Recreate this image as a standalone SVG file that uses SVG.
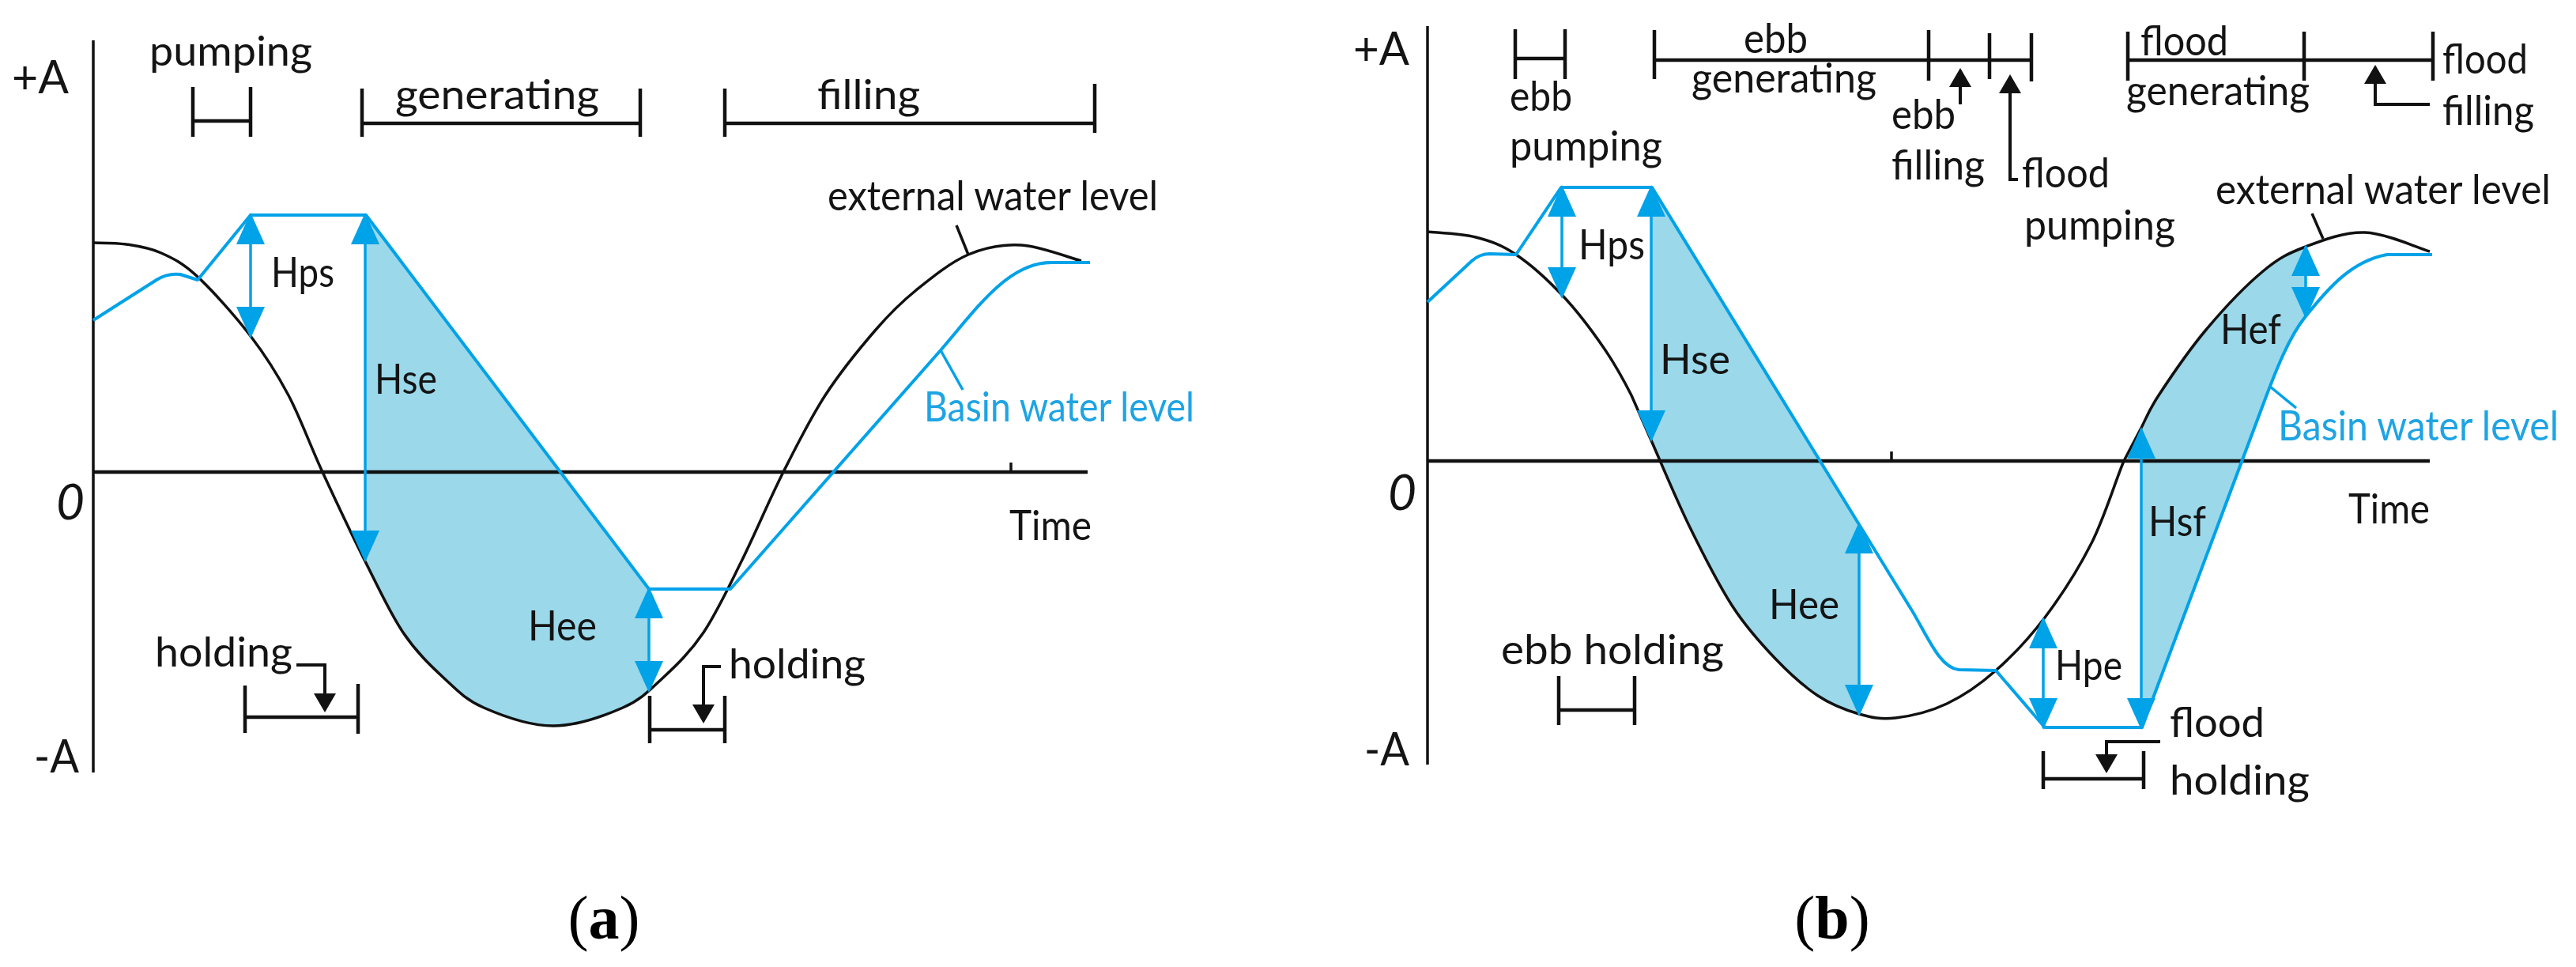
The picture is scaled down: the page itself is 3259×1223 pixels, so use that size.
<svg xmlns="http://www.w3.org/2000/svg" width="3259" height="1223" viewBox="0 0 3259 1223">
<style>
.t{font-family:Lato,"Open Sans","Liberation Sans",sans-serif;font-size:52px;fill:#141414}
.big{font-size:58px}
.zero{font-size:62px;font-style:italic}
.bt{fill:#1ea4e3}
.cap{font-family:"Liberation Serif","Times New Roman",serif;font-size:78px;fill:#000}
.ax{stroke:#111;stroke-width:3.5;fill:none}
.br{stroke:#111;stroke-width:4.5;fill:none}
.ext{stroke:#111;stroke-width:3.5;fill:none}
.bas{stroke:#00a2e8;stroke-width:4;fill:none;stroke-linejoin:round}
.dim{stroke:#00a2e8;stroke-width:3.5;fill:none}
.ptr{stroke:#111;stroke-width:4;fill:none}
.shade{fill:#9ad8ea;stroke:none}
</style>
<defs>
<marker id="ab" markerUnits="userSpaceOnUse" viewBox="0 0 40 36" markerWidth="40" markerHeight="36" refX="37" refY="18" orient="auto-start-reverse"><path d="M0,0 L40,18 L0,36 Z" fill="#00a2e8"/></marker>
<marker id="ak" markerUnits="userSpaceOnUse" viewBox="0 0 24 28" markerWidth="24" markerHeight="28" refX="21" refY="14" orient="auto"><path d="M0,0 L24,14 L0,28 Z" fill="#111"/></marker>
<clipPath id="clipA"><rect x="400" y="200" width="421" height="800"/></clipPath>
</defs>

<g id="panel-a">
  <g id="a-shade"><path class="shade" clip-path="url(#clipA)" d="M463,272 L462,710 C479,743.8 493.5,775.5 510,800 C526.5,824.5 544,841.2 561,857 C578,872.8 588.8,884.8 612,895 C635.2,905.2 670.7,918 700,918 C729.3,918 764.8,905.2 788,895 C811.2,884.8 822,872.8 839,857 L839,745 L821,745 Z"/></g>
  <g id="a-axes">
    <path class="ax" d="M118,51 V977"/>
    <path class="ax" d="M118,597 H1376" style="stroke-width:4.5"/>
    <path class="ax" d="M1279,585 V597"/>
  </g>
  <g id="a-external"><path class="ext" d="M118,307 C125,307.3 145.7,306.8 160,309 C174.3,311.2 189,313.2 204,320 C219,326.8 231.2,332.5 250,350 C268.8,367.5 297.8,400 317,425 C336.2,450 349.8,471.3 365,500 C380.2,528.7 391.8,562 408,597 C424.2,632 445,676.2 462,710 C479,743.8 493.5,775.5 510,800 C526.5,824.5 544,841.2 561,857 C578,872.8 588.8,884.8 612,895 C635.2,905.2 670.7,918 700,918 C729.3,918 764.8,905.2 788,895 C811.2,884.8 822,872.8 839,857 C856,841.2 873.5,824.5 890,800 C906.5,775.5 921.2,743.8 938,710 C954.8,676.2 973.3,632 991,597 C1008.7,562 1024.5,530 1044,500 C1063.5,470 1088.8,439.2 1108,417 C1127.2,394.8 1139.5,382.8 1159,367 C1178.5,351.2 1202.8,331.5 1225,322 C1247.2,312.5 1268.2,308.7 1292,310 C1315.8,311.3 1355.3,326.7 1368,330"/></g>
  <g id="a-basin"><path class="bas" d="M118,405 L198,354 Q212,345 228,347 L250,354 L317,272 L463,272 L821,745 L924,745 L1190,443 C1235,391 1275,332 1330,332 L1379,332"/></g>
  <g id="a-connectors">
    <line class="ext" x1="1210" y1="285" x2="1225" y2="322"/>
    <line class="dim" x1="1190" y1="443" x2="1218" y2="493"/>
    <line class="dim" x1="317" y1="272" x2="317" y2="425" marker-start="url(#ab)" marker-end="url(#ab)"/>
    <line class="dim" x1="462" y1="272" x2="462" y2="708" marker-start="url(#ab)" marker-end="url(#ab)"/>
    <line class="dim" x1="821" y1="745" x2="821" y2="873" marker-start="url(#ab)" marker-end="url(#ab)"/>
    <polyline class="ptr" points="375,841 411,841 411,898" marker-end="url(#ak)"/>
    <polyline class="ptr" points="912,843 890,843 890,912" marker-end="url(#ak)"/>
  </g>
  <g id="a-brackets">
    <path class="br" d="M244,110 V173 M317,110 V173 M244,153 H317"/>
    <path class="br" d="M458,112 V173 M810,112 V173 M458,156 H810"/>
    <path class="br" d="M917,112 V173 M1385,106 V168 M917,156 H1385"/>
    <path class="br" d="M310,867 V927 M453,865 V928 M310,907 H453"/>
    <path class="br" d="M822,880 V940 M917,880 V940 M822,923 H917"/>
  </g>
  <g id="a-labels">
    <text class="t big" x="15" y="118" textLength="72" lengthAdjust="spacingAndGlyphs">+A</text>
    <text class="t big" x="43" y="977" textLength="57" lengthAdjust="spacingAndGlyphs">-A</text>
    <text class="t zero" x="71" y="657">0</text>
    <text class="t" x="189" y="83" textLength="206" lengthAdjust="spacingAndGlyphs">pumping</text>
    <text class="t" x="500" y="138" textLength="258" lengthAdjust="spacingAndGlyphs">generating</text>
    <text class="t" x="1034" y="138" textLength="130" lengthAdjust="spacingAndGlyphs">filling</text>
    <text class="t" x="1047" y="266" textLength="418" lengthAdjust="spacingAndGlyphs">external water level</text>
    <text class="t" x="343" y="363" textLength="80" lengthAdjust="spacingAndGlyphs">Hps</text>
    <text class="t" x="474" y="498" textLength="79" lengthAdjust="spacingAndGlyphs">Hse</text>
    <text class="t bt" x="1169" y="533" textLength="342" lengthAdjust="spacingAndGlyphs">Basin water level</text>
    <text class="t" x="1277" y="683" textLength="104" lengthAdjust="spacingAndGlyphs">Time</text>
    <text class="t" x="668" y="810" textLength="87" lengthAdjust="spacingAndGlyphs">Hee</text>
    <text class="t" x="196" y="843" textLength="174" lengthAdjust="spacingAndGlyphs">holding</text>
    <text class="t" x="922" y="858" textLength="173" lengthAdjust="spacingAndGlyphs">holding</text>
    <text class="cap" x="764" y="1187" text-anchor="middle">(<tspan font-weight="bold">a</tspan>)</text>
  </g>
</g>

<g id="panel-b">
  <g id="b-shade">
    <path class="shade" d="M2090,237 L2089,557 C2101.3,584.8 2120.8,632 2138,667 C2155.2,702 2174,739.3 2192,767 C2210,794.7 2228,814.2 2246,833 C2264,851.8 2282.3,868.3 2300,880 C2317.7,891.7 2335.7,898.3 2352,903 L2352,663 Z"/>
    <path class="shade" d="M2708,543 C2715.3,529.2 2717.2,521 2731,500 C2744.8,479 2769,443.2 2791,417 C2813,390.8 2842,360.5 2863,343 C2884,325.5 2895.5,320.2 2917,312 L2917,400 C2896,426 2880,466 2860,520 L2710,920 L2708,920 Z"/>
  </g>
  <g id="b-axes">
    <path class="ax" d="M1806,33 V967"/>
    <path class="ax" d="M1806,583 H3074" style="stroke-width:4.5"/>
    <path class="ax" d="M2393,571 V583"/>
  </g>
  <g id="b-external"><path class="ext" d="M1806,293 C1816.2,294.2 1848.3,295.2 1867,300 C1885.7,304.8 1899.5,309.5 1918,322 C1936.5,334.5 1959.5,355.3 1978,375 C1996.5,394.7 2014.7,419.2 2029,440 C2043.3,460.8 2054,480.5 2064,500 L2089,557 C2101.3,584.8 2120.8,632 2138,667 C2155.2,702 2174,739.3 2192,767 C2210,794.7 2228,814.2 2246,833 C2264,851.8 2282.3,868.3 2300,880 C2317.7,891.7 2335.7,898.3 2352,903 C2368.3,907.7 2379.5,910.2 2398,908 C2416.5,905.8 2441.8,900 2463,890 C2484.2,880 2504.3,866.2 2525,848 C2545.7,829.8 2566.8,807.8 2587,781 C2607.2,754.2 2629.3,720 2646,687 C2662.7,654 2676.7,607 2687,583 L2708,543 C2715.3,529.2 2717.2,521 2731,500 C2744.8,479 2769,443.2 2791,417 C2813,390.8 2842,360.5 2863,343 C2884,325.5 2895.5,320.2 2917,312 C2938.5,303.8 2965.8,293 2992,294 C3018.2,295 3060.3,314 3074,318"/></g>
  <g id="b-basin"><path class="bas" d="M1806,382 L1862,330 Q1872,321 1885,321 L1918,322 L1975,237 L2090,237 L2420,774 C2440,808 2455,845 2478,847 L2525,848 L2587,920 L2710,920 L2860,520 C2880,466 2896,426 2917,400 C2945,365 2975,330 3020,322 L3077,322"/></g>
  <g id="b-connectors">
    <line class="ext" x1="2925" y1="270" x2="2939" y2="302"/>
    <line class="dim" x1="2872" y1="489" x2="2905" y2="516"/>
    <line class="dim" x1="1976" y1="237" x2="1976" y2="375" marker-start="url(#ab)" marker-end="url(#ab)"/>
    <line class="dim" x1="2089" y1="237" x2="2089" y2="556" marker-start="url(#ab)" marker-end="url(#ab)"/>
    <line class="dim" x1="2352" y1="663" x2="2352" y2="903" marker-start="url(#ab)" marker-end="url(#ab)"/>
    <line class="dim" x1="2585" y1="783" x2="2585" y2="920" marker-start="url(#ab)" marker-end="url(#ab)"/>
    <line class="dim" x1="2709" y1="543" x2="2709" y2="920" marker-start="url(#ab)" marker-end="url(#ab)"/>
    <line class="dim" x1="2917" y1="312" x2="2917" y2="400" marker-start="url(#ab)" marker-end="url(#ab)"/>
    <polyline class="ptr" points="2480,132 2480,89" marker-end="url(#ak)"/>
    <polyline class="ptr" points="2553,227 2543,227 2543,97" marker-end="url(#ak)"/>
    <polyline class="ptr" points="3074,132 3005,132 3005,85" marker-end="url(#ak)"/>
    <polyline class="ptr" points="2733,938 2665,938 2665,975" marker-end="url(#ak)"/>
  </g>
  <g id="b-brackets">
    <path class="br" d="M1917,37 V100 M1980,37 V100 M1917,74 H1980"/>
    <path class="br" d="M2093,38 V100 M2440,38 V102 M2517,42 V100 M2570,42 V103 M2093,76 H2570"/>
    <path class="br" d="M2692,40 V102 M2915,40 V102 M3078,40 V102 M2692,76 H3078"/>
    <path class="br" d="M1972,855 V917 M2068,855 V917 M1972,898 H2068"/>
    <path class="br" d="M2585,950 V998 M2712,950 V998 M2585,985 H2712"/>
  </g>
  <g id="b-labels">
    <text class="t big" x="1712" y="82" textLength="71" lengthAdjust="spacingAndGlyphs">+A</text>
    <text class="t big" x="1726" y="968" textLength="57" lengthAdjust="spacingAndGlyphs">-A</text>
    <text class="t zero" x="1756" y="645">0</text>
    <text class="t" x="1910" y="140" textLength="79" lengthAdjust="spacingAndGlyphs">ebb</text>
    <text class="t" x="1910" y="203" textLength="193" lengthAdjust="spacingAndGlyphs">pumping</text>
    <text class="t" x="2206" y="67" textLength="81" lengthAdjust="spacingAndGlyphs">ebb</text>
    <text class="t" x="2140" y="117" textLength="234" lengthAdjust="spacingAndGlyphs">generating</text>
    <text class="t" x="2393" y="163" textLength="81" lengthAdjust="spacingAndGlyphs">ebb</text>
    <text class="t" x="2393" y="227" textLength="118" lengthAdjust="spacingAndGlyphs">filling</text>
    <text class="t" x="2558" y="237" textLength="111" lengthAdjust="spacingAndGlyphs">flood</text>
    <text class="t" x="2561" y="303" textLength="191" lengthAdjust="spacingAndGlyphs">pumping</text>
    <text class="t" x="2708" y="70" textLength="111" lengthAdjust="spacingAndGlyphs">flood</text>
    <text class="t" x="2690" y="133" textLength="232" lengthAdjust="spacingAndGlyphs">generating</text>
    <text class="t" x="3090" y="93" textLength="108" lengthAdjust="spacingAndGlyphs">flood</text>
    <text class="t" x="3090" y="158" textLength="116" lengthAdjust="spacingAndGlyphs">filling</text>
    <text class="t" x="2803" y="258" textLength="424" lengthAdjust="spacingAndGlyphs">external water level</text>
    <text class="t" x="1997" y="328" textLength="84" lengthAdjust="spacingAndGlyphs">Hps</text>
    <text class="t" x="2100" y="473" textLength="89" lengthAdjust="spacingAndGlyphs">Hse</text>
    <text class="t" x="2809" y="435" textLength="77" lengthAdjust="spacingAndGlyphs">Hef</text>
    <text class="t bt" x="2882" y="557" textLength="355" lengthAdjust="spacingAndGlyphs">Basin water level</text>
    <text class="t" x="2971" y="662" textLength="103" lengthAdjust="spacingAndGlyphs">Time</text>
    <text class="t" x="2718" y="678" textLength="73" lengthAdjust="spacingAndGlyphs">Hsf</text>
    <text class="t" x="2238" y="783" textLength="89" lengthAdjust="spacingAndGlyphs">Hee</text>
    <text class="t" x="2600" y="860" textLength="85" lengthAdjust="spacingAndGlyphs">Hpe</text>
    <text class="t" x="1899" y="840" textLength="282" lengthAdjust="spacingAndGlyphs">ebb holding</text>
    <text class="t" x="2745" y="932" textLength="120" lengthAdjust="spacingAndGlyphs">flood</text>
    <text class="t" x="2745" y="1005" textLength="177" lengthAdjust="spacingAndGlyphs">holding</text>
    <text class="cap" x="2318" y="1187" text-anchor="middle">(<tspan font-weight="bold">b</tspan>)</text>
  </g>
</g>
</svg>
